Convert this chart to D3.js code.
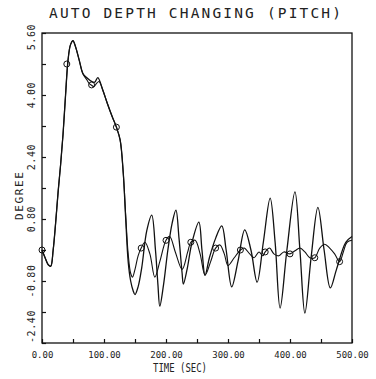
<!DOCTYPE html>
<html>
<head>
<meta charset="utf-8">
<title>Auto depth changing (pitch)</title>
<script src="https://cdn.jsdelivr.net/npm/d3@7"></script>
<style>
body { margin: 0; background: #fff; }
text { font-family: "DejaVu Sans Mono", monospace; fill: #222; }
</style>
</head>
<body>
<div id="chart"></div>
<script>
// pitch angle vs time
var timeA  = [0, 5, 10, 14, 18, 22, 26, 30, 34, 38, 42, 46, 50, 54, 60, 66, 72, 76, 80, 84, 88, 92, 98,
              105, 113, 120, 126, 131, 135, 139, 143, 146, 150, 155, 160, 166, 174, 182, 190, 200, 206,
              215, 226, 235, 240, 247, 255, 263, 272, 280, 287, 294, 300, 310, 320, 326, 335, 342, 350,
              356, 360, 367, 374, 382, 390, 400, 408, 416, 424, 432, 440, 448, 456, 464, 472, 480, 486,
              492, 500];
var pitchA = [0.0, -0.2, -0.38, -0.42, 0.0, 0.7, 1.5, 2.2, 3.0, 4.0, 4.9, 5.3, 5.4, 5.25, 4.9, 4.55,
              4.4, 4.3, 4.25, 4.22, 4.3, 4.35, 4.13, 3.8, 3.45, 3.17, 2.84, 2.0, 0.9, -0.1, -0.6, -0.7,
              -0.5, -0.15, 0.05, 0.2, -0.1, -0.7, -0.3, 0.25, 0.35, -0.05, -0.5, -0.05, 0.2, 0.25, -0.1,
              -0.65, -0.3, 0.05, 0.13, -0.1, -0.4, -0.2, 0.0, 0.05, -0.1, -0.2, -0.05, -0.15, -0.05, 0.05,
              -0.1, -0.15, -0.05, -0.1, -0.02, 0.05, -0.05, -0.2, -0.2, 0.05, 0.15, 0.05, -0.1, -0.3,
              -0.05, 0.2, 0.25];

var timeB  = [0, 5, 10, 14, 18, 22, 26, 30, 34, 38, 42, 46, 50, 54, 60, 66, 72, 80, 85, 90, 98,
              105, 113, 120, 126, 131, 135, 139, 143, 147, 150, 155, 161, 169, 177, 183, 187, 190, 196,
              203, 210, 216, 221, 226, 228, 234, 242, 253, 258, 263, 270, 280, 290, 297, 306, 316, 327,
              337, 347, 357, 368, 376, 384, 395, 408, 416, 424, 434, 445, 455, 465, 475, 490, 500];
var pitchB = [0.0, -0.2, -0.38, -0.42, 0.0, 0.7, 1.5, 2.2, 3.0, 4.0, 4.9, 5.3, 5.4, 5.25, 4.9, 4.55,
              4.45, 4.35, 4.33, 4.45, 4.13, 3.8, 3.45, 3.17, 2.84, 2.0, 0.8, -0.3, -0.8, -1.05, -1.15,
              -0.95, -0.44, 0.5, 0.9, 0.0, -0.9, -1.45, -0.9, 0.0, 0.7, 1.03, 0.3, -0.6, -0.88, -0.5,
              0.2, 0.72, 0.0, -0.65, -0.2, 0.3, 0.62, 0.0, -0.95, -0.3, 0.52, 0.0, -0.83, 0.2, 1.34,
              0.2, -1.5, 0.0, 1.5, 0.0, -1.63, -0.2, 1.1, 0.0, -0.98, -0.5, 0.2, 0.35];

// circle symbols on the first curve
var markTime  = [0, 40, 80, 120, 160, 200, 240, 280, 320, 360, 400, 440, 480];
var markPitch = [0.0, 4.8, 4.26, 3.17, 0.05, 0.25, 0.2, 0.05, 0.0, -0.05, -0.1, -0.2, -0.3];

var xTicks = [0, 50, 100, 150, 200, 250, 300, 350, 400, 450, 500];
var yTicks = [-2.4, -1.6, -0.8, 0.0, 0.8, 1.6, 2.4, 3.2, 4.0, 4.8, 5.6];
var yLabels = [-2.4, -0.8, 0.8, 2.4, 4.0, 5.6];

function draw() {
    var W = 376, H = 379;
    var left = 42, plotTop = 33, size = 310;

    var svg = d3.select("#chart").append("svg")
        .attr("width", W)
        .attr("height", H);

    var x = d3.scaleLinear().domain([0, 500]).range([left, left + size]);
    var y = d3.scaleLinear().domain([-2.4, 5.6]).range([plotTop + size, plotTop]);

    // frame
    svg.append("rect")
        .attr("x", left).attr("y", plotTop)
        .attr("width", size).attr("height", size)
        .attr("fill", "none")
        .attr("stroke", "#111")
        .attr("stroke-width", 1.3);

    // x axis, ticks pointing inward
    var xAxis = svg.append("g")
        .attr("transform", "translate(0," + (plotTop + size) + ")")
        .call(d3.axisBottom(x).tickValues(xTicks).tickSizeInner(-4).tickSizeOuter(0).tickPadding(9)
            .tickFormat(function(d) { return d % 100 == 0 ? d.toFixed(2) : ""; }));
    xAxis.select(".domain").remove();
    xAxis.selectAll("line").attr("stroke", "#111").attr("stroke-width", 1.2);
    xAxis.selectAll("text")
        .attr("font-family", "DejaVu Sans Mono")
        .attr("font-size", 9)
        .attr("fill", "#222");

    // y axis, ticks only; labels are rotated
    var yAxis = svg.append("g")
        .attr("transform", "translate(" + left + ",0)")
        .call(d3.axisLeft(y).tickValues(yTicks).tickSizeInner(-4).tickSizeOuter(0).tickFormat(""));
    yAxis.select(".domain").remove();
    yAxis.selectAll("line").attr("stroke", "#111").attr("stroke-width", 1.2);

    var yMin = d3.min(yLabels), yMax = d3.max(yLabels);
    svg.selectAll(".ylab")
        .data(yLabels)
        .enter()
        .append("text")
        .attr("class", "ylab")
        .attr("x", 35)
        .attr("y", function(d) { return y(d); })
        .attr("transform", function(d) { return "rotate(-90,35," + y(d) + ")"; })
        .attr("dx", function(d) { return d == yMax ? -4 : 0; })
        .attr("text-anchor", function(d) { return d == yMin ? "start" : "middle"; })
        .attr("font-size", 10)
        .attr("letter-spacing", 0.6)
        .text(function(d) { return d.toFixed(2); });

    // titles
    svg.append("text")
        .attr("x", 195).attr("y", 18)
        .attr("text-anchor", "middle")
        .attr("font-size", 14.5)
        .attr("textLength", 292)
        .attr("lengthAdjust", "spacing")
        .text("AUTO DEPTH CHANGING (PITCH)");

    svg.append("text")
        .attr("x", 180).attr("y", 372)
        .attr("text-anchor", "middle")
        .attr("font-size", 12)
        .attr("textLength", 54)
        .attr("lengthAdjust", "spacingAndGlyphs")
        .text("TIME (SEC)");

    svg.append("text")
        .attr("x", 23).attr("y", 196)
        .attr("transform", "rotate(-90,23,196)")
        .attr("text-anchor", "middle")
        .attr("font-size", 11)
        .attr("textLength", 48)
        .attr("lengthAdjust", "spacing")
        .text("DEGREE");

    // curves
    var line = d3.line()
        .x(function(d) { return x(d[0]); })
        .y(function(d) { return y(d[1]); })
        .curve(d3.curveCatmullRom.alpha(0.5));

    svg.append("path")
        .datum(d3.zip(timeB, pitchB))
        .attr("d", line)
        .attr("fill", "none")
        .attr("stroke", "#111")
        .attr("stroke-width", 1.3);

    svg.append("path")
        .datum(d3.zip(timeA, pitchA))
        .attr("d", line)
        .attr("fill", "none")
        .attr("stroke", "#111")
        .attr("stroke-width", 1.1);

    svg.selectAll(".mark")
        .data(d3.zip(markTime, markPitch))
        .enter()
        .append("circle")
        .attr("class", "mark")
        .attr("cx", function(d) { return x(d[0]); })
        .attr("cy", function(d) { return y(d[1]); })
        .attr("r", 3)
        .attr("fill", "none")
        .attr("stroke", "#111")
        .attr("stroke-width", 1);
}

draw();
</script>
</body>
</html>
